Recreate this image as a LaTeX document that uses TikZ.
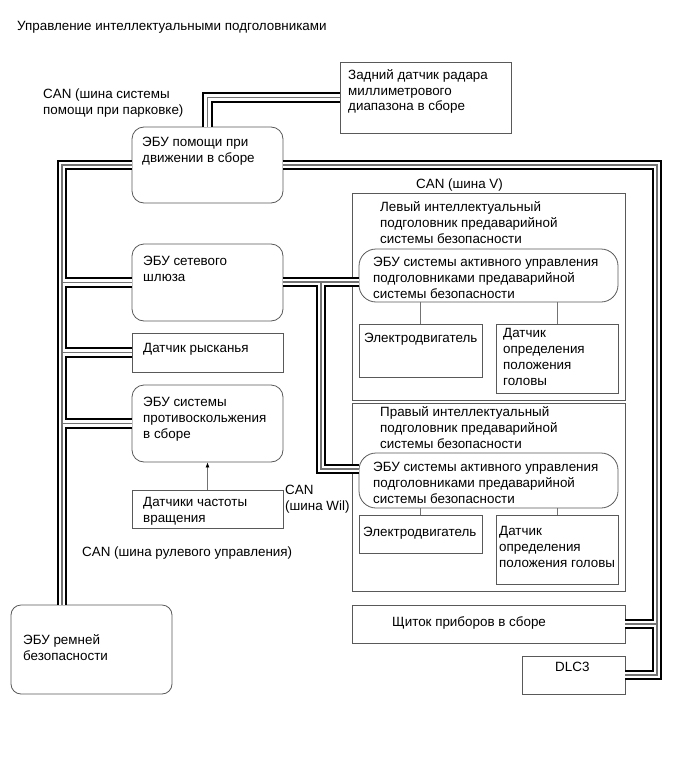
\documentclass[tikz,border=0pt]{standalone}
\usepackage{fontspec}
\setmainfont{Liberation Sans}
\usetikzlibrary{arrows.meta,fit}
\newcommand{\ml}[1]{\begin{tabular}[t]{@{}l@{}}#1\end{tabular}}
\begin{document}
\begin{tikzpicture}[x=1pt,y=-1pt,
  box/.style={draw=black!65, line width=0.8pt, inner sep=0pt},
  rbox/.style={box, rounded corners=12pt},
  rrbox/.style={box, rounded corners=17pt},
  txt/.style={anchor=base west, inner sep=0pt, font=\fontsize{13.4}{16}\selectfont},
  bus/.style={draw=black, line width=10.5pt, line join=miter,
    postaction={draw=white, line width=6.5pt},
    postaction={draw=black!55, line width=1.3pt}},
  link/.style={draw=black!55, line width=0.8pt}]
\useasboundingbox (0,0) rectangle (686,760);

% boxes
\node[box,  fit={(340,62) (511,133)}] (radar) {};
\node[rbox, fit={(132,127) (283,203)}] (ecu1) {};
\node[rbox, fit={(132,244) (283,321)}] (gw) {};
\node[box,  fit={(132,333) (283,372)}] (yaw) {};
\node[rbox, fit={(132,385) (283,462)}] (abs) {};
\node[box,  fit={(132,490) (283,528)}] (wheel) {};
\node[box, rounded corners=10pt, fit={(11,605) (172,694)}] (belt) {};
\node[box,  fit={(352,193) (625,400)}] (lh) {};
\node[rrbox,fit={(359,249) (618,302)}] (lecu) {};
\node[box,  fit={(359,324) (482,377)}] (lmot) {};
\node[box,  fit={(496,324) (618,393)}] (lsen) {};
\node[box,  fit={(352,403) (625,591)}] (rh) {};
\node[rrbox,fit={(359,453) (618,508)}] (recu) {};
\node[box,  fit={(359,515) (482,553)}] (rmot) {};
\node[box,  fit={(496,515) (618,584)}] (rsen) {};
\node[box,  fit={(352,605) (625,643)}] (dash) {};
\node[box,  fit={(522,656) (625,694)}] (dlc) {};

% texts
\node[txt] (title) at (17,31) {Управление интеллектуальными подголовниками};
\node[txt] (tcanp) at (43,98) {\ml{CAN (шина системы\\помощи при парковке)}};
\node[txt] (tradar) at (348,79) {\ml{Задний датчик радара\\миллиметрового\\диапазона в сборе}};
\node[txt] (tecu1) at (142,146) {\ml{ЭБУ помощи при\\движении в сборе}};
\node[txt] (tcanv) at (416,188) {CAN (шина V)};
\node[txt] (tlh) at (380,211) {\ml{Левый интеллектуальный\\подголовник предаварийной\\системы безопасности}};
\node[txt] (tgw) at (143,265) {\ml{ЭБУ сетевого\\шлюза}};
\node[txt] (tlecu) at (373,266) {\ml{ЭБУ системы активного управления\\подголовниками предаварийной\\системы безопасности}};
\node[txt] (tlmot) at (364,342) {Электродвигатель};
\node[txt] (tlsen) at (503,337) {\ml{Датчик\\определения\\положения\\головы}};
\node[txt] (tyaw) at (143,352) {Датчик рысканья};
\node[txt] (tabs) at (143,406) {\ml{ЭБУ системы\\противоскольжения\\в сборе}};
\node[txt] (trh) at (380,416) {\ml{Правый интеллектуальный\\подголовник предаварийной\\системы безопасности}};
\node[txt] (trecu) at (373,471) {\ml{ЭБУ системы активного управления\\подголовниками предаварийной\\системы безопасности}};
\node[txt] (twheel) at (143,506) {\ml{Датчики частоты\\вращения}};
\node[txt] (tcanw) at (285,494) {\ml{CAN\\(шина Wil)}};
\node[txt] (trmot) at (363,536) {Электродвигатель};
\node[txt] (trsen) at (499,535) {\ml{Датчик\\определения\\положения головы}};
\node[txt] (tcans) at (82,556) {CAN (шина рулевого управления)};
\node[txt] (tdash) at (392,626) {Щиток приборов в сборе};
\node[txt] (tbelt) at (23,644) {\ml{ЭБУ ремней\\безопасности}};
\node[txt] (tdlc) at (555,671) {DLC3};

% bus helper coordinates
\coordinate (L) at (62,0);
\coordinate (R) at (657,0);
\coordinate (M) at (321,0);
\coordinate (vin) at (359,282);
\coordinate (rin) at (359,469);

% buses (one path so junctions merge)
\draw[bus]
  (ecu1.north) |- (radar.west)
  (ecu1.west) -| (L |- belt.north)
  (ecu1.east) -| (R |- dlc.east) -- (dlc.east)
  (L |- gw.west) -- (gw.west)
  (L |- yaw.west) -- (yaw.west)
  (L |- abs.west) -- (abs.west)
  (R |- dash.east) -- (dash.east)
  (gw.east |- vin) -- (vin)
  (M |- vin) |- (rin);

% thin links
\draw[link] (lmot.north |- lecu.south) -- (lmot.north);
\draw[link] (lsen.north |- lecu.south) -- (lsen.north);
\draw[link] (rmot.north |- recu.south) -- (rmot.north);
\draw[link] (rsen.north |- recu.south) -- (rsen.north);
\draw[link, -{Latex[length=5pt,width=4pt,color=black]}] (wheel.north) -- (abs.south);
\end{tikzpicture}
\end{document}
